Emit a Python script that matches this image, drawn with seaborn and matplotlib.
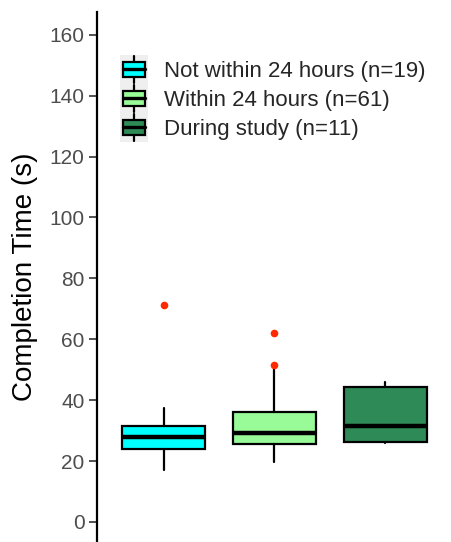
import matplotlib
matplotlib.use("Agg")
import matplotlib.pyplot as plt
import seaborn as sns
from matplotlib.legend_handler import HandlerBase
from matplotlib.patches import Rectangle
from matplotlib.lines import Line2D

# Summary statistics per group (seconds)
groups = ["Not within 24 hours (n=19)", "Within 24 hours (n=61)", "During study (n=11)"]
q1 = [23.8, 25.6, 26.4]
median = [27.8, 29.1, 31.6]
q3 = [31.6, 36.0, 44.4]
whisker_low = [17.1, 19.8, 25.9]
whisker_high = [37.3, 50.6, 45.9]
outliers = [[71.4], [51.4, 62.2], []]
colors = ["#00FFFF", "#98FB98", "#2E8B57"]
yticks = [0, 20, 40, 60, 80, 100, 120, 140, 160]

sns.set_theme(style="white")
plt.rcParams["font.family"] = ["Liberation Sans", "DejaVu Sans"]

fig = plt.figure(figsize=(4.52, 5.42), dpi=100)
ax = fig.add_axes([97 / 452, 0.0, 1 - 97 / 452, 1 - 12 / 542])

stats = []
for i, g in enumerate(groups):
    stats.append(dict(label=g, q1=q1[i], med=median[i], q3=q3[i],
                      whislo=whisker_low[i], whishi=whisker_high[i],
                      fliers=outliers[i]))

bp = ax.bxp(stats, positions=range(len(groups)), widths=0.75,
            patch_artist=True, showcaps=False,
            boxprops=dict(linewidth=1.6, edgecolor="black"),
            whiskerprops=dict(linewidth=1.6, color="black"),
            medianprops=dict(linewidth=3.2, color="black", solid_capstyle="butt"),
            flierprops=dict(marker="o", markersize=5.5, markerfacecolor="#FF2A00",
                            markeredgecolor="none"))
for patch, c in zip(bp["boxes"], colors):
    patch.set_facecolor(c)

ax.set_xlim(-0.6, 2.6)
ax.set_ylim(-6.6, 167.5)
ax.set_yticks(yticks)
ax.set_xticks([])
ax.tick_params(axis="y", left=True, length=6, width=1.2, color="#333333",
               labelsize=15, labelcolor="#4D4D4D", pad=3)
ax.set_ylabel("Completion Time (s)", fontsize=20, color="black", labelpad=8)
for side in ["top", "right", "bottom"]:
    ax.spines[side].set_visible(False)
ax.spines["left"].set_linewidth(1.6)
ax.spines["left"].set_color("black")
ax.set_facecolor("white")


class BoxKeyHandler(HandlerBase):
    def create_artists(self, legend, orig_handle, xdescent, ydescent,
                       width, height, fontsize, trans):
        x0, y0 = -xdescent, -ydescent
        bg = Rectangle((x0, y0), width, height, facecolor="#EFEFEF",
                       edgecolor="none", transform=trans)
        cx = x0 + width / 2
        vline = Line2D([cx, cx], [y0 + height * 0.04, y0 + height * 0.96],
                       color="black", linewidth=1.6, transform=trans)
        bw = width * 0.78
        bh = height * 0.52
        box = Rectangle((cx - bw / 2, y0 + (height - bh) / 2), bw, bh,
                        facecolor=orig_handle.get_facecolor(), edgecolor="black",
                        linewidth=1.6, transform=trans)
        med = Line2D([cx - bw / 2, cx + bw / 2], [y0 + height / 2] * 2,
                     color="black", linewidth=2.4, transform=trans)
        return [bg, vline, box, med]


handles = [Rectangle((0, 0), 1, 1, facecolor=c) for c in colors]
ax.legend(handles, groups, handler_map={Rectangle: BoxKeyHandler()},
          loc="upper left", bbox_to_anchor=(120 / 452, 1 - 55 / 542),
          bbox_transform=fig.transFigure, frameon=False, fontsize=16,
          borderpad=0, borderaxespad=0, labelspacing=0.0,
          handlelength=1.26, handleheight=1.63, handletextpad=0.72)

fig.savefig("out.png", dpi=100)
